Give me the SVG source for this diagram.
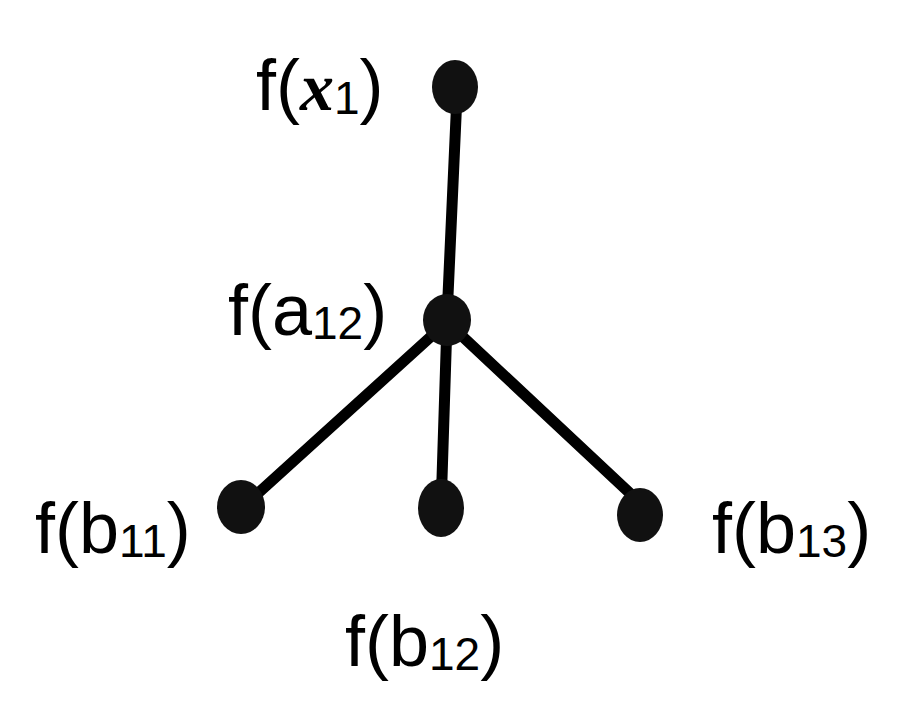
<svg xmlns="http://www.w3.org/2000/svg" width="911" height="709" viewBox="0 0 911 709">
<style>
.n{fill:#111}
.e{stroke:#000;stroke-width:11;stroke-linecap:round;fill:none}
text{font-family:"Liberation Sans",Arial,sans-serif;font-size:72px;fill:#000}
.s{font-size:46px}
</style>
<rect width="911" height="709" fill="#fff"/>
<g id="connectors">
<line class="e" x1="457" y1="95" x2="447" y2="318"/>
<line class="e" x1="447" y1="322" x2="245" y2="505"/>
<line class="e" x1="447" y1="322" x2="441" y2="510"/>
<line class="e" x1="447" y1="322" x2="650" y2="512"/>
</g>
<g id="x1"><ellipse class="n" cx="455" cy="87" rx="23" ry="27"/>
<text x="256" y="110">f(<tspan font-family="Liberation Serif,serif" font-style="italic" font-weight="bold" font-size="68">x</tspan><tspan class="s" dy="4">1</tspan><tspan dy="-4">)</tspan></text></g>
<g id="a12"><ellipse class="n" cx="447" cy="320" rx="24" ry="26"/>
<text x="228" y="335">f(a<tspan class="s" dy="4">12</tspan><tspan dy="-4">)</tspan></text></g>
<g id="b11"><ellipse class="n" cx="241" cy="507" rx="24" ry="27"/>
<text x="35" y="553">f(b<tspan class="s" dy="4">11</tspan><tspan dy="-4">)</tspan></text></g>
<g id="b12"><ellipse class="n" cx="441" cy="508" rx="23" ry="29"/>
<text x="345" y="666">f(b<tspan class="s" dy="4">12</tspan><tspan dy="-4">)</tspan></text></g>
<g id="b13"><ellipse class="n" cx="640" cy="515" rx="23" ry="27"/>
<text x="712" y="553">f(b<tspan class="s" dy="4">13</tspan><tspan dy="-4">)</tspan></text></g>
</svg>
